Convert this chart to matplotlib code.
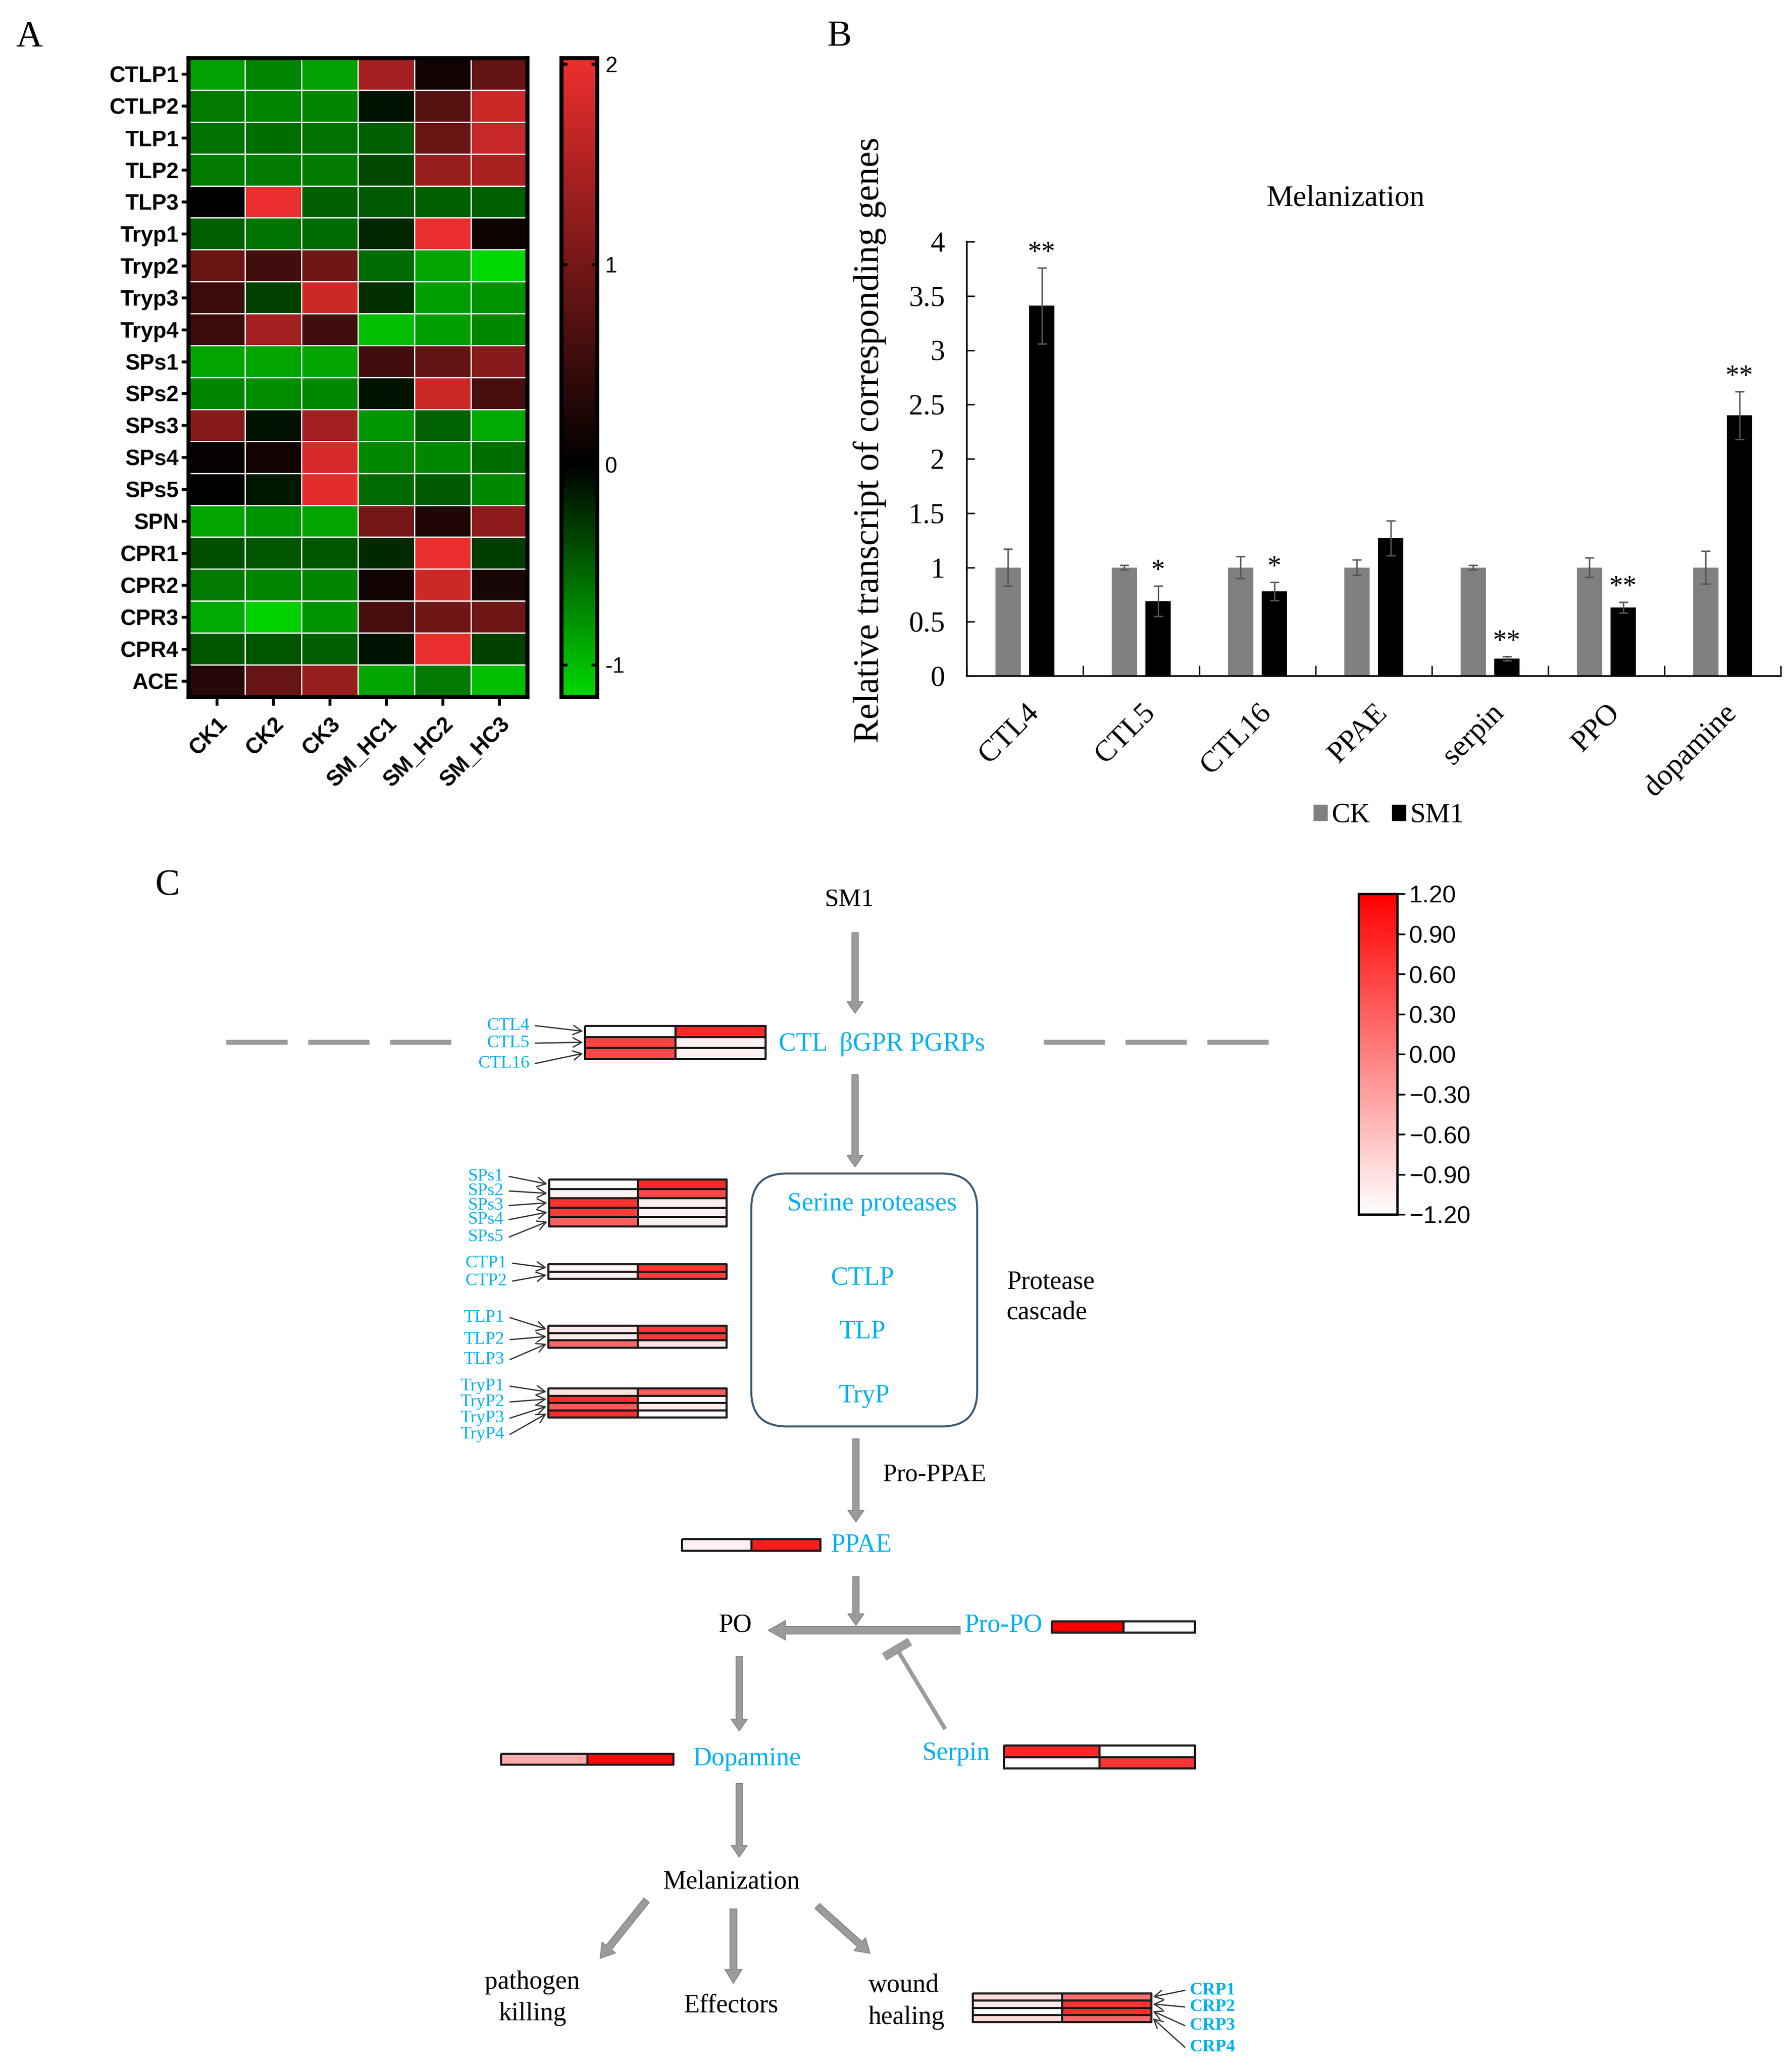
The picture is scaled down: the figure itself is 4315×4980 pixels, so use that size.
import numpy as np
import matplotlib
matplotlib.use('Agg')
import matplotlib.pyplot as plt
import matplotlib.cm as cm
from matplotlib.colors import LinearSegmentedColormap, Normalize
from matplotlib.patches import FancyArrowPatch, FancyBboxPatch, Patch

W, H = 4315, 4980
SERIF = 'Liberation Serif'
SANS = 'Liberation Sans'
CYAN = '#00B0F0'
GRAY = '#9b9b9b'

# ---------------- panel A data (z-scores)
genes_a = ['CTLP1', 'CTLP2', 'TLP1', 'TLP2', 'TLP3', 'Tryp1', 'Tryp2', 'Tryp3', 'Tryp4',
           'SPs1', 'SPs2', 'SPs3', 'SPs4', 'SPs5', 'SPN', 'CPR1', 'CPR2', 'CPR3', 'CPR4', 'ACE']
samples_a = ['CK1', 'CK2', 'CK3', 'SM_HC1', 'SM_HC2', 'SM_HC3']
expr_a = [
    [-0.85, -0.70, -0.85, 1.40, 0.15, 0.85],
    [-0.65, -0.70, -0.70, -0.10, 0.75, 1.75],
    [-0.60, -0.58, -0.60, -0.50, 0.90, 1.70],
    [-0.65, -0.65, -0.65, -0.38, 1.30, 1.45],
    [0.00, 2.00, -0.50, -0.47, -0.50, -0.50],
    [-0.50, -0.62, -0.57, -0.20, 2.00, 0.10],
    [0.90, 0.55, 0.95, -0.57, -0.88, -1.15],
    [0.50, -0.35, 1.75, -0.25, -0.83, -0.78],
    [0.50, 1.40, 0.58, -1.02, -0.83, -0.72],
    [-0.88, -0.88, -0.88, 0.55, 0.85, 1.15],
    [-0.70, -0.75, -0.72, -0.10, 1.75, 0.60],
    [1.15, -0.10, 1.40, -0.80, -0.52, -0.90],
    [0.05, 0.15, 1.85, -0.72, -0.72, -0.58],
    [0.00, -0.12, 1.95, -0.55, -0.48, -0.72],
    [-0.88, -0.78, -0.88, 1.00, 0.25, 1.20],
    [-0.42, -0.45, -0.45, -0.22, 2.00, -0.33],
    [-0.65, -0.70, -0.70, 0.15, 1.75, 0.20],
    [-0.90, -1.12, -0.78, 0.62, 0.95, 0.95],
    [-0.45, -0.45, -0.50, -0.10, 2.00, -0.35],
    [0.33, 0.88, 1.30, -0.88, -0.65, -1.02],
]

# ---------------- panel B data (relative transcript, mean and error)
genes_b = ['CTL4', 'CTL5', 'CTL16', 'PPAE', 'serpin', 'PPO', 'dopamine']
ck_mean = [1.0, 1.0, 1.0, 1.0, 1.0, 1.0, 1.0]
ck_err = [0.17, 0.02, 0.10, 0.07, 0.02, 0.09, 0.15]
sm1_mean = [3.41, 0.69, 0.78, 1.27, 0.16, 0.63, 2.40]
sm1_err = [0.35, 0.14, 0.085, 0.16, 0.02, 0.05, 0.22]
sig_b = ['**', '*', '*', '', '**', '**', '**']

# ---------------- panel C data (two columns per gene: CK, SM1)
ctl_genes = ['CTL4', 'CTL5', 'CTL16']
ctl_vals = [[-1.2, 0.82], [0.59, -1.06], [0.54, -1.06]]
sps_genes = ['SPs1', 'SPs2', 'SPs3', 'SPs4', 'SPs5']
sps_vals = [[-1.2, 0.82], [-1.06, 0.54], [0.72, -1.06], [0.63, -1.06], [0.30, -1.02]]
ctp_genes = ['CTP1', 'CTP2']
ctp_vals = [[-1.12, 0.72], [-1.06, 0.60]]
tlp_genes = ['TLP1', 'TLP2', 'TLP3']
tlp_vals = [[-0.97, 0.68], [-0.97, 0.68], [0.22, -0.97]]
tryp_genes = ['TryP1', 'TryP2', 'TryP3', 'TryP4']
tryp_vals = [[-0.92, 0.35], [0.75, -1.2], [0.35, -1.0], [0.75, -1.2]]
ppae_vals = [[-1.06, 0.92]]
propo_vals = [[1.2, -1.2]]
serpin_vals = [[0.82, -1.2], [-1.2, 0.72]]
dopa_vals = [[-0.40, 1.10]]
crp_genes = ['CRP1', 'CRP2', 'CRP3', 'CRP4']
crp_vals = [[-0.88, 0.15], [-1.0, 0.72], [-1.15, 0.78], [-0.88, 0.22]]
cbar_c_ticks = np.round(np.arange(-4, 5) * 0.3, 2)


fig = plt.figure(figsize=(W / 100, H / 100), dpi=100)


def add_ax(x0, y0, x1, y1, **kw):
    # axes from pixel box (top-left origin)
    return fig.add_axes([x0 / W, 1 - y1 / H, (x1 - x0) / W, (y1 - y0) / H], **kw)


# ================= A: heatmap
cmap_a = LinearSegmentedColormap.from_list(
    'gkr', [(0.0, (0.0, 0.85, 0.0)), (1.16 / 3.19, (0.0, 0.0, 0.0)), (1.0, (0.93, 0.18, 0.18))])
norm_a = Normalize(-1.16, 2.03)

axA = add_ax(454, 140, 1270, 1678)
axA.pcolormesh(np.array(expr_a), cmap=cmap_a, norm=norm_a, edgecolors='white', linewidth=2)
axA.set_xlim(0, len(samples_a))
axA.set_ylim(len(genes_a), 0)
axA.tick_params(axis='y', length=12, width=5, pad=5)
axA.tick_params(axis='x', length=15, width=5, pad=14)
axA.set_yticks(np.arange(len(genes_a)) + 0.5)
axA.set_yticklabels(genes_a)
axA.set_xticks(np.arange(len(samples_a)) + 0.5)
axA.set_xticklabels(samples_a, rotation=45, ha='right', rotation_mode='anchor')
for sp in axA.spines.values():
    sp.set_linewidth(7)
for lab in axA.get_xticklabels() + axA.get_yticklabels():
    lab.set_fontfamily(SANS)
    lab.set_fontweight('bold')
    lab.set_fontsize(38)

caxA = add_ax(1352, 140, 1438, 1678)
cbA = fig.colorbar(cm.ScalarMappable(norm=norm_a, cmap=cmap_a), cax=caxA)
caxA.tick_params(direction='in', length=10, width=5, left=True, right=True, pad=14)
cbA.set_ticks([-1, 0, 1, 2])
cbA.set_ticklabels(['-1', '0', '1', '2'])
cbA.outline.set_linewidth(7)
for lab in caxA.get_yticklabels():
    lab.set_fontfamily(SANS)
    lab.set_fontsize(38)

# ================= B: bar chart
axB = add_ax(2328, 582, 4288, 1628)
xb = np.arange(len(genes_b))
bw = 0.22
ekw = dict(elinewidth=2.5, capthick=2.5, ecolor='#555555')
axB.bar(xb - 0.145, ck_mean, bw, yerr=ck_err, color='#808080', capsize=8, error_kw=ekw)
axB.bar(xb + 0.145, sm1_mean, bw, yerr=sm1_err, color='black', capsize=8, error_kw=ekw)
for i, s in enumerate(sig_b):
    if s:
        axB.text(xb[i] + 0.145, sm1_mean[i] + sm1_err[i] + 0.02, s, ha='center', va='bottom',
                 fontsize=48, fontfamily=SERIF)
axB.set_xlim(-0.5, len(genes_b) - 0.5)
axB.set_ylim(0, 4)
axB.spines['top'].set_visible(False)
axB.spines['right'].set_visible(False)
axB.spines['left'].set_linewidth(3)
axB.spines['bottom'].set_linewidth(3)
axB.tick_params(axis='y', direction='in', length=14, width=2.5, pad=38)
axB.tick_params(axis='x', which='major', length=0, pad=40)
axB.tick_params(axis='x', which='minor', direction='in', length=18, width=2.5)
yt = np.arange(0, 4.01, 0.5)
axB.set_yticks(yt)
axB.set_yticklabels(['%g' % v for v in yt])
axB.set_xticks(xb)
axB.set_xticklabels(genes_b, rotation=45, ha='right', rotation_mode='anchor')
axB.set_xticks(np.arange(-0.5, len(genes_b)), minor=True)
for lab in axB.get_yticklabels():
    lab.set_fontfamily(SERIF)
    lab.set_fontsize(50)
for lab in axB.get_xticklabels():
    lab.set_fontfamily(SERIF)
    lab.set_fontsize(52)

fig.text(3240 / W, 1 - 478 / H, 'Melanization', ha='center', va='center', fontsize=52, fontfamily=SERIF)
fig.text(2094 / W, 1 - 1060 / H, 'Relative transcript of corresponding genes', rotation=90,
         ha='center', va='center', fontsize=62, fontfamily=SERIF)
handles = [Patch(color='#808080', label='CK'), Patch(color='black', label='SM1')]
fig.legend(handles=handles, loc='center', bbox_to_anchor=(3344 / W, 1 - 1964 / H), ncol=2,
           frameon=False, prop={'family': SERIF, 'size': 48}, handlelength=0.5,
           handleheight=0.5, handletextpad=0.15, columnspacing=0.8)

# panel letters
for letter, (px, py) in zip('ABC', [(70, 89), (2021, 89), (403, 2132)]):
    fig.text(px / W, 1 - py / H, letter, ha='center', va='center', fontsize=64, fontfamily=SERIF)

# ================= C: pathway diagram (pixel coordinates)
reds = LinearSegmentedColormap.from_list('wr', ['#ffffff', '#ff0000'])
axC = fig.add_axes([0, 0, 1, 1])
axC.set_xlim(0, W)
axC.set_ylim(H, 0)
axC.axis('off')


def mini_heat(vals, x0, x1, y0, y1):
    v = np.array(vals, float)
    xe = np.linspace(x0, x1, v.shape[1] + 1)
    ye = np.linspace(y0, y1, v.shape[0] + 1)
    axC.pcolormesh(xe, ye, v, cmap=reds, vmin=-1.2, vmax=1.2, edgecolors='#1a1a1a', linewidth=2.5)
    return ye


def gray_arrow(p0, p1, tail=11, hw=28, hl=20):
    axC.add_patch(FancyArrowPatch(p0, p1, arrowstyle='simple,head_length=%g,head_width=%g,tail_width=%g'
                                  % (hl, hw, tail), mutation_scale=1, fc=GRAY, ec='#858585', lw=1.5,
                                  shrinkA=0, shrinkB=0))


def thin_arrow(p0, p1):
    axC.add_patch(FancyArrowPatch(p0, p1, arrowstyle='->,head_length=15,head_width=8', mutation_scale=1,
                                  color='#333333', lw=2.2, shrinkA=0, shrinkB=0))


def gene_labels(names, ys, ye, x_text, x_tip, side='left', bold=False):
    centers = (ye[:-1] + ye[1:]) / 2
    for name, y, yc in zip(names, ys, centers):
        if side == 'left':
            axC.text(x_text, y, name, ha='right', va='center', fontsize=31, fontfamily=SERIF, color=CYAN,
                     fontweight='bold' if bold else 'normal')
            thin_arrow((x_text + 14, y), (x_tip, yc))
        else:
            axC.text(x_text, y, name, ha='left', va='center', fontsize=31, fontfamily=SERIF, color=CYAN,
                     fontweight='bold' if bold else 'normal')
            thin_arrow((x_text - 12, y), (x_tip, yc))


def ctext(x, y, s, color=CYAN, size=45, ha='center'):
    axC.text(x, y, s, ha=ha, va='center', fontsize=size, fontfamily=SERIF, color=color)


# top: SM1 -> receptors
ctext(2045, 2167, 'SM1', color='black', size=44)
gray_arrow((2059, 2246), (2059, 2440))
for xs in [(545, 1088), (2513, 3055)]:
    axC.plot(xs, [2510, 2510], color=GRAY, lw=8.5, dashes=(12.5, 4.2), dash_capstyle='butt')
ye = mini_heat(ctl_vals, 1408, 1843, 2470, 2550)
gene_labels(ctl_genes, [2470, 2512, 2561], ye, 1275, 1404)
ctext(1875, 2515, 'CTL  \u03b2GPR PGRPs', ha='left')
gray_arrow((2059, 2588), (2059, 2810))

# protease cascade box
axC.add_patch(FancyBboxPatch((1809, 2826), 544, 609, boxstyle='round,pad=0,rounding_size=85',
                             fc='none', ec='#3d5a73', lw=3.5))
ctext(2100, 2900, 'Serine proteases')
ctext(2077, 3078, 'CTLP')
ctext(2077, 3208, 'TLP')
ctext(2081, 3362, 'TryP')
ctext(2424, 3089, 'Protease', color='black', ha='left')
ctext(2424, 3162, 'cascade', color='black', ha='left')

ye = mini_heat(sps_vals, 1322, 1749, 2840, 2953)
gene_labels(sps_genes, [2833, 2868, 2903, 2937, 2979], ye, 1212, 1318)
ye = mini_heat(ctp_vals, 1320, 1749, 3044, 3079)
gene_labels(ctp_genes, [3042, 3085], ye, 1220, 1316)
ye = mini_heat(tlp_vals, 1320, 1749, 3192, 3245)
gene_labels(tlp_genes, [3173, 3226, 3274], ye, 1214, 1316)
ye = mini_heat(tryp_vals, 1320, 1749, 3343, 3413)
gene_labels(tryp_genes, [3338, 3376, 3415, 3454], ye, 1214, 1316)

# PPAE / PO
gray_arrow((2061, 3465), (2061, 3665))
ctext(2125, 3552, 'Pro-PPAE', color='black', ha='left', size=44)
mini_heat(ppae_vals, 1642, 1975, 3706, 3734)
ctext(2000, 3722, 'PPAE', ha='left')
gray_arrow((2061, 3797), (2061, 3914))
gray_arrow((2312, 3926), (1850, 3926), tail=13, hw=34, hl=30)
ctext(1770, 3915, 'PO', color='black')
ctext(2322, 3915, 'Pro-PO', ha='left')
mini_heat(propo_vals, 2532, 2877, 3904, 3931)

# serpin inhibition
axC.plot([2276, 2162], [4164, 3975], color=GRAY, lw=7, solid_capstyle='butt')
axC.plot([2191, 2129], [3953, 3990], color=GRAY, lw=15, solid_capstyle='butt')
ctext(2302, 4223, 'Serpin')
mini_heat(serpin_vals, 2417, 2877, 4203, 4258)

# dopamine / melanization
gray_arrow((1780, 3989), (1780, 4168))
mini_heat(dopa_vals, 1206, 1621, 4223, 4249)
ctext(1798, 4236, 'Dopamine')
gray_arrow((1780, 4295), (1780, 4472))
ctext(1761, 4532, 'Melanization', color='black')
gray_arrow((1557, 4576), (1445, 4716), tail=12, hw=30, hl=24)
gray_arrow((1766, 4597), (1766, 4776), tail=12, hw=30, hl=24)
gray_arrow((1968, 4590), (2095, 4704), tail=12, hw=30, hl=24)
ctext(1282, 4774, 'pathogen', color='black')
ctext(1282, 4850, 'killing', color='black')
ctext(1760, 4831, 'Effectors', color='black')
ctext(2176, 4782, 'wound', color='black')
ctext(2182, 4859, 'healing', color='black')
ye = mini_heat(crp_vals, 2342, 2772, 4800, 4869)
gene_labels(crp_genes, [4793, 4833, 4878, 4930], ye, 2865, 2776, side='right', bold=True)

# C colour scale
caxC = add_ax(3272, 2153, 3365, 2925)
cbC = fig.colorbar(cm.ScalarMappable(norm=Normalize(-1.2, 1.2), cmap=reds), cax=caxC)
caxC.tick_params(direction='out', length=14, width=3, pad=6)
cbC.set_ticks(cbar_c_ticks)
cbC.set_ticklabels([('%.2f' % t).replace('-', '\u2212') for t in cbar_c_ticks])
cbC.outline.set_linewidth(4)
for lab in caxC.get_yticklabels():
    lab.set_fontfamily(SANS)
    lab.set_fontsize(42)

fig.savefig('out.png', dpi=100)
